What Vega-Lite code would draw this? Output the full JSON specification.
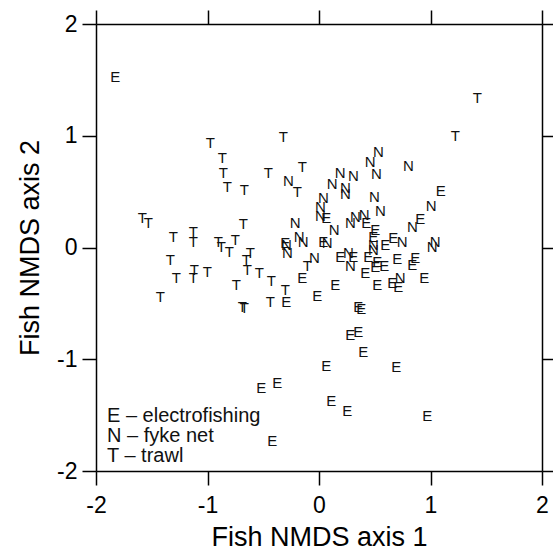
{
  "$schema": "https://vega.github.io/schema/vega-lite/v6.json",
  "width": 446,
  "height": 447,
  "autosize": {"type": "none"},
  "padding": {"left": 96, "top": 24, "right": 11, "bottom": 87},
  "background": "white",
  "config": {
    "view": {"stroke": null},
    "font": "Liberation Sans",
    "axis": {
      "grid": false,
      "domainColor": "#000",
      "domainWidth": 1.5,
      "tickColor": "#000",
      "tickWidth": 1.5,
      "tickSize": 14,
      "labelColor": "#000",
      "titleColor": "#000",
      "labelFont": "Liberation Sans",
      "titleFont": "Liberation Sans",
      "labelFontSize": 23,
      "titleFontSize": 27,
      "titleFontWeight": "normal",
      "labelFlush": false,
      "labelBound": false,
      "labelOverlap": false
    }
  },
  "data": {
    "values": [
      {"g": "T", "x": -0.975, "y": 0.937},
      {"g": "T", "x": -0.867, "y": 0.803},
      {"g": "T", "x": -0.858, "y": 0.669},
      {"g": "T", "x": -0.822, "y": 0.543},
      {"g": "T", "x": -0.67, "y": 0.516},
      {"g": "T", "x": -0.455, "y": 0.669},
      {"g": "T", "x": -0.32, "y": 0.991},
      {"g": "T", "x": -0.15, "y": 0.723},
      {"g": "T", "x": -0.195, "y": 0.499},
      {"g": "T", "x": -1.585, "y": 0.266},
      {"g": "T", "x": -1.531, "y": 0.221},
      {"g": "T", "x": -1.307, "y": 0.096},
      {"g": "T", "x": -1.127, "y": 0.141},
      {"g": "T", "x": -1.127, "y": 0.051},
      {"g": "T", "x": -0.903, "y": 0.051},
      {"g": "T", "x": -0.876, "y": 0.006},
      {"g": "T", "x": -0.804, "y": -0.038},
      {"g": "T", "x": -0.751, "y": 0.069},
      {"g": "T", "x": -0.679, "y": 0.212},
      {"g": "T", "x": -0.616, "y": -0.047},
      {"g": "T", "x": -0.652, "y": -0.11},
      {"g": "T", "x": -0.643, "y": -0.199},
      {"g": "T", "x": -1.334, "y": -0.11},
      {"g": "T", "x": -1.28, "y": -0.271},
      {"g": "T", "x": -1.118, "y": -0.199},
      {"g": "T", "x": -1.127, "y": -0.271},
      {"g": "T", "x": -1.002, "y": -0.218},
      {"g": "T", "x": -1.423, "y": -0.441},
      {"g": "T", "x": -0.742, "y": -0.334},
      {"g": "T", "x": -0.688, "y": -0.531},
      {"g": "T", "x": -0.67, "y": -0.54},
      {"g": "T", "x": -0.535, "y": -0.226},
      {"g": "T", "x": -0.428, "y": -0.298},
      {"g": "T", "x": -0.437, "y": -0.486},
      {"g": "T", "x": -0.302, "y": -0.379},
      {"g": "T", "x": -0.105, "y": -0.164},
      {"g": "T", "x": 1.222, "y": 1.0},
      {"g": "T", "x": 1.42, "y": 1.34},
      {"g": "N", "x": -0.275, "y": 0.597},
      {"g": "N", "x": 0.532, "y": 0.857},
      {"g": "N", "x": 0.46, "y": 0.767},
      {"g": "N", "x": 0.801, "y": 0.731},
      {"g": "N", "x": 0.514, "y": 0.66},
      {"g": "N", "x": 0.191, "y": 0.669},
      {"g": "N", "x": 0.308, "y": 0.642},
      {"g": "N", "x": 0.119, "y": 0.57},
      {"g": "N", "x": 0.236, "y": 0.534},
      {"g": "N", "x": 0.236, "y": 0.481},
      {"g": "N", "x": 0.496, "y": 0.454},
      {"g": "N", "x": 0.039, "y": 0.445},
      {"g": "N", "x": 0.012, "y": 0.364},
      {"g": "N", "x": 0.012, "y": 0.284},
      {"g": "N", "x": 1.007, "y": 0.373},
      {"g": "N", "x": 0.837, "y": 0.185},
      {"g": "N", "x": 0.55, "y": 0.329},
      {"g": "N", "x": 0.406, "y": 0.293},
      {"g": "N", "x": 0.326, "y": 0.275},
      {"g": "N", "x": 0.281, "y": 0.221},
      {"g": "N", "x": 0.137, "y": 0.158},
      {"g": "N", "x": -0.213, "y": 0.221},
      {"g": "N", "x": -0.177, "y": 0.096},
      {"g": "N", "x": -0.141, "y": 0.051},
      {"g": "N", "x": -0.293, "y": 0.024},
      {"g": "N", "x": -0.284, "y": -0.047},
      {"g": "N", "x": 0.074, "y": 0.042},
      {"g": "N", "x": 0.747, "y": 0.051},
      {"g": "N", "x": 1.016, "y": 0.006},
      {"g": "N", "x": 1.043, "y": 0.051},
      {"g": "N", "x": -0.042, "y": -0.092},
      {"g": "N", "x": 0.263, "y": -0.047},
      {"g": "N", "x": 0.281, "y": -0.164},
      {"g": "N", "x": 0.487, "y": -0.021},
      {"g": "N", "x": 0.487, "y": 0.024},
      {"g": "N", "x": 0.729, "y": -0.271},
      {"g": "E", "x": -1.827, "y": 1.528},
      {"g": "E", "x": 1.092, "y": 0.508},
      {"g": "E", "x": 0.065, "y": 0.266},
      {"g": "E", "x": 0.908, "y": 0.257},
      {"g": "E", "x": 0.424, "y": 0.221},
      {"g": "E", "x": 0.505, "y": 0.158},
      {"g": "E", "x": 0.487, "y": 0.096},
      {"g": "E", "x": 0.039, "y": 0.051},
      {"g": "E", "x": -0.302, "y": 0.042},
      {"g": "E", "x": 0.666, "y": 0.087},
      {"g": "E", "x": 0.595, "y": 0.024},
      {"g": "E", "x": 0.191, "y": -0.083},
      {"g": "E", "x": 0.308, "y": -0.083},
      {"g": "E", "x": 0.442, "y": -0.083},
      {"g": "E", "x": 0.523, "y": -0.128},
      {"g": "E", "x": 0.505, "y": -0.173},
      {"g": "E", "x": 0.586, "y": -0.164},
      {"g": "E", "x": 0.702, "y": -0.101},
      {"g": "E", "x": 0.864, "y": -0.092},
      {"g": "E", "x": 0.837, "y": -0.155},
      {"g": "E", "x": -0.15, "y": -0.271},
      {"g": "E", "x": -0.015, "y": -0.432},
      {"g": "E", "x": 0.146, "y": -0.334},
      {"g": "E", "x": -0.293, "y": -0.486},
      {"g": "E", "x": 0.415, "y": -0.226},
      {"g": "E", "x": 0.523, "y": -0.334},
      {"g": "E", "x": 0.657, "y": -0.316},
      {"g": "E", "x": 0.711, "y": -0.352},
      {"g": "E", "x": 0.944, "y": -0.271},
      {"g": "E", "x": 0.352, "y": -0.531},
      {"g": "E", "x": 0.379, "y": -0.549},
      {"g": "E", "x": 0.281, "y": -0.782},
      {"g": "E", "x": 0.352, "y": -0.755},
      {"g": "E", "x": 0.397, "y": -0.934},
      {"g": "E", "x": 0.065, "y": -1.059},
      {"g": "E", "x": 0.693, "y": -1.068},
      {"g": "E", "x": -0.518, "y": -1.256},
      {"g": "E", "x": -0.374, "y": -1.211},
      {"g": "E", "x": 0.11, "y": -1.372},
      {"g": "E", "x": 0.254, "y": -1.462},
      {"g": "E", "x": 0.971, "y": -1.507},
      {"g": "E", "x": -0.419, "y": -1.731}
    ]
  },
  "layer": [
    {
      "mark": {"type": "text", "font": "Liberation Sans", "fontSize": 15, "baseline": "middle", "align": "center"},
      "encoding": {
        "x": {"field": "x", "type": "quantitative", "scale": {"domain": [-2, 2], "nice": false, "zero": false},
              "axis": {"orient": "bottom", "values": [-2, -1, 0, 1, 2], "title": "Fish NMDS axis 1", "labelPadding": 9, "titlePadding": 7,
                       "labelExpr": "datum.value < 0 ? '-' + abs(datum.value) : '' + datum.value"}},
        "y": {"field": "y", "type": "quantitative", "scale": {"domain": [-2, 2], "nice": false, "zero": false},
              "axis": {"orient": "left", "values": [-2, -1, 0, 1, 2], "title": "Fish NMDS axis 2", "labelPadding": 5, "titlePadding": 12,
                       "labelExpr": "datum.value < 0 ? '-' + abs(datum.value) : '' + datum.value"}},
        "text": {"field": "g"},
        "color": {"field": "g", "type": "nominal",
                  "scale": {"domain": ["E", "N", "T"], "range": ["#111", "#111", "#111"]},
                  "legend": {"orient": "none", "legendX": -9, "legendY": 382, "title": null,
                             "symbolSize": 0, "symbolOpacity": 0, "symbolStrokeWidth": 0,
                             "labelOffset": 0, "padding": 0, "rowPadding": -1.5,
                             "labelFont": "Liberation Sans", "labelFontSize": 20, "labelColor": "#111",
                             "labelExpr": "datum.label == 'E' ? 'E – electrofishing' : datum.label == 'N' ? 'N – fyke net' : 'T – trawl'"}}
      }
    },
    {
      "mark": {"type": "point", "opacity": 0},
      "encoding": {
        "x": {"field": "x", "type": "quantitative", "scale": {"domain": [-2, 2], "nice": false, "zero": false},
              "axis": {"orient": "top", "values": [-2, -1, 0, 1, 2], "labels": false, "title": null}},
        "y": {"field": "y", "type": "quantitative", "scale": {"domain": [-2, 2], "nice": false, "zero": false},
              "axis": {"orient": "right", "values": [-2, -1, 0, 1, 2], "labels": false, "title": null}}
      }
    }
  ],
  "resolve": {"axis": {"x": "independent", "y": "independent"}}
}
